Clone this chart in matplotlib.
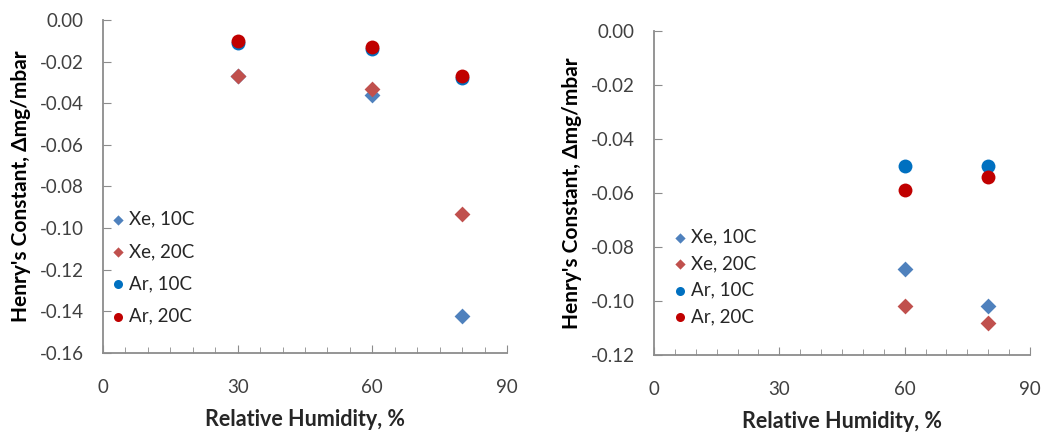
import numpy as np
import matplotlib.pyplot as plt
from matplotlib.ticker import MultipleLocator

plt.rcParams['font.family'] = ['Lato', 'DejaVu Sans']

# left panel
rh_left = [30, 60, 80]
xe10_left = [-0.027, -0.036, -0.142]
xe20_left = [-0.027, -0.033, -0.093]
ar10_left = [-0.011, -0.014, -0.028]
ar20_left = [-0.010, -0.013, -0.027]

# right panel
rh_right = [60, 80]
xe10_right = [-0.088, -0.102]
xe20_right = [-0.102, -0.108]
ar10_right = [-0.050, -0.050]
ar20_right = [-0.059, -0.054]

labels = ["Xe, 10C", "Xe, 20C", "Ar, 10C", "Ar, 20C"]
colors = ["#4F81BD", "#C0504D", "#0070C0", "#C00000"]
markers = ["D", "D", "o", "o"]
sizes = [65, 65, 100, 100]

fig = plt.figure(figsize=(10.46, 4.33), dpi=100)
ax1 = fig.add_axes([0.0985, 0.1848, 0.3862, 0.769])
ax2 = fig.add_axes([0.6252, 0.1801, 0.3595, 0.7483])


def draw(ax, x, series, ymin, legend_loc, spacing):
    for ys, lab, c, m, s in zip(series, labels, colors, markers, sizes):
        ax.scatter(x, ys, marker=m, s=s, color=c, label=lab, zorder=3,
                   linewidths=0)
    ax.set_xlim(0, 90)
    ax.set_ylim(ymin, 0)
    ax.xaxis.set_major_locator(MultipleLocator(30))
    ax.xaxis.set_minor_locator(MultipleLocator(5))
    ax.yaxis.set_major_locator(MultipleLocator(0.02))
    ax.yaxis.set_major_formatter(plt.FuncFormatter(lambda v, p: f"{v:.2f}"))
    for sp in ["top", "right"]:
        ax.spines[sp].set_visible(False)
    for sp in ["left", "bottom"]:
        ax.spines[sp].set_color("#8C8C8C")
        ax.spines[sp].set_linewidth(1.3)
    ax.tick_params(axis="x", which="major", direction="in", length=6,
                   color="#8C8C8C", labelsize=13.5, pad=19, labelcolor="#404040")
    ax.tick_params(axis="x", which="minor", direction="in", length=4,
                   color="#8C8C8C")
    ax.tick_params(axis="y", direction="in", length=6, color="#8C8C8C",
                   labelsize=13.5, pad=14, labelcolor="#404040")
    ax.set_xlabel("Relative Humidity, %", fontsize=15.5, fontweight="bold",
                  color="#262626", labelpad=9)
    ax.set_ylabel("Henry's Constant, \u0394mg/mbar", fontsize=15,
                  fontweight="bold", color="#000000", labelpad=6)
    ax.legend(loc="lower left", bbox_to_anchor=legend_loc, frameon=False,
              fontsize=13.5, handlelength=1.0, handletextpad=0.05,
              labelspacing=spacing, markerscale=0.65, borderaxespad=0.0,
              borderpad=0.0, labelcolor="#262626")


draw(ax1, rh_left, [xe10_left, xe20_left, ar10_left, ar20_left],
     -0.16, (0.015, 0.085), 0.82)
draw(ax2, rh_right, [xe10_right, xe20_right, ar10_right, ar20_right],
     -0.12, (0.045, 0.093), 0.5)

fig.savefig("out.png", dpi=100)
